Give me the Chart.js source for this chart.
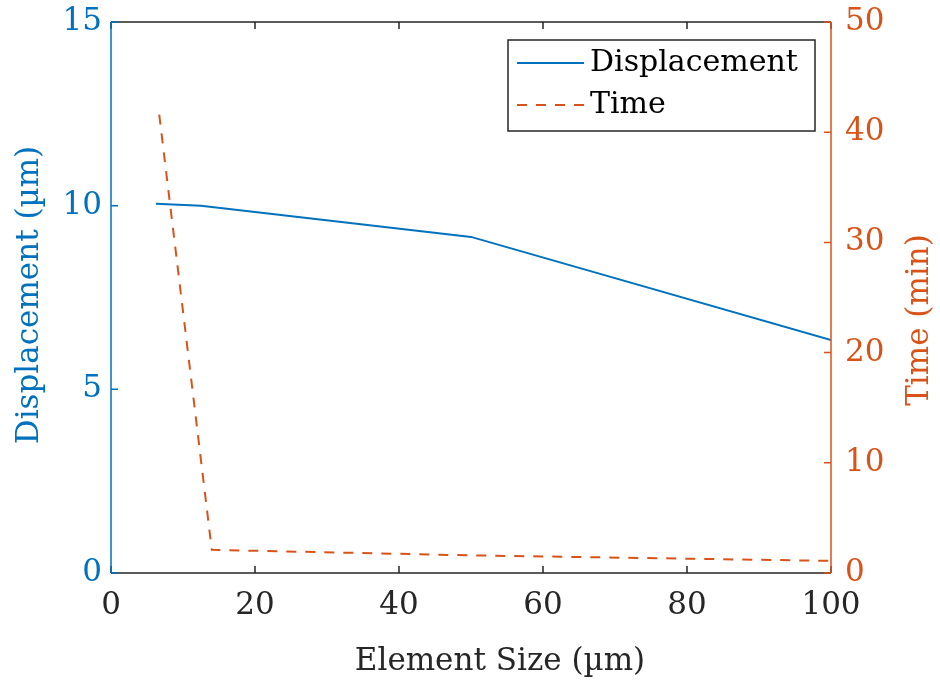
<!DOCTYPE html>
<html>
<head>
<meta charset="utf-8">
<script src="https://cdn.jsdelivr.net/npm/chart.js@4/dist/chart.umd.min.js"></script>
<style>
  html, body { margin: 0; padding: 0; background: #fff; }
  #wrap { width: 940px; height: 685px; }
</style>
</head>
<body>
<div id="wrap"><canvas id="chart" width="940" height="685"></canvas></div>
<script>
const dispSize = [6.25, 12.5, 50, 100];
const displacement = [10.05, 10.0, 9.15, 6.34];
const timeSize = [6.7, 14, 50, 100];
const timeMin = [41.6, 2.1, 1.6, 1.1];

const xTicks = [0, 20, 40, 60, 80, 100];
const leftTicks = [0, 5, 10, 15];
const rightTicks = [0, 10, 20, 30, 40, 50];

const BLUE = '#0072BD';
const ORANGE = '#D95319';
const DARK = '#262626';
const FONT = 'DejaVu Serif';
const FS = 31;

// axes box, inward tick marks, titles and legend (MATLAB look)
const matlabAxes = {
    id: 'matlabAxes',
    afterDraw(chart) {
        const ctx = chart.ctx;
        const a = chart.chartArea;
        const x = chart.scales.x, y = chart.scales.y, y2 = chart.scales.y2;
        const tl = 7;
        ctx.save();
        ctx.lineWidth = 1.5;
        // bottom & top
        ctx.strokeStyle = DARK;
        ctx.beginPath();
        ctx.moveTo(a.left, a.bottom); ctx.lineTo(a.right, a.bottom);
        ctx.moveTo(a.left, a.top); ctx.lineTo(a.right, a.top);
        xTicks.forEach(v => {
            const px = x.getPixelForValue(v);
            ctx.moveTo(px, a.bottom); ctx.lineTo(px, a.bottom - tl);
            ctx.moveTo(px, a.top); ctx.lineTo(px, a.top + tl);
        });
        ctx.stroke();
        // left axis
        ctx.strokeStyle = BLUE;
        ctx.beginPath();
        ctx.moveTo(a.left, a.bottom); ctx.lineTo(a.left, a.top);
        leftTicks.forEach(v => {
            const py = y.getPixelForValue(v);
            ctx.moveTo(a.left, py); ctx.lineTo(a.left + tl, py);
        });
        ctx.stroke();
        // right axis
        ctx.strokeStyle = ORANGE;
        ctx.beginPath();
        ctx.moveTo(a.right, a.bottom); ctx.lineTo(a.right, a.top);
        rightTicks.forEach(v => {
            const py = y2.getPixelForValue(v);
            ctx.moveTo(a.right, py); ctx.lineTo(a.right - tl, py);
        });
        ctx.stroke();

        ctx.font = FS + 'px "' + FONT + '"';
        ctx.textAlign = 'center';
        ctx.textBaseline = 'middle';
        // x title
        ctx.fillStyle = DARK;
        ctx.fillText('Element Size (µm)', 500, 662);
        // left title
        ctx.fillStyle = BLUE;
        ctx.translate(30, 295);
        ctx.rotate(-Math.PI / 2);
        ctx.fillText('Displacement (µm)', 0, 0);
        ctx.setTransform(1, 0, 0, 1, 0, 0);
        // right title, read bottom to top
        ctx.fillStyle = ORANGE;
        ctx.translate(920, 320);
        ctx.rotate(-Math.PI / 2);
        ctx.fillText('Time (min)', 0, 0);
        ctx.setTransform(1, 0, 0, 1, 0, 0);

        // legend box
        const bx = 508, by = 40, bw = 307, bh = 91;
        ctx.fillStyle = '#fff';
        ctx.fillRect(bx, by, bw, bh);
        ctx.strokeStyle = DARK;
        ctx.lineWidth = 1.5;
        ctx.strokeRect(bx, by, bw, bh);
        chart.data.datasets.forEach((ds, i) => {
            const ly = by + 23 + i * 42;
            ctx.strokeStyle = ds.borderColor;
            ctx.lineWidth = ds.borderWidth;
            ctx.setLineDash(ds.borderDash || []);
            ctx.beginPath();
            ctx.moveTo(bx + 9, ly); ctx.lineTo(bx + 76, ly);
            ctx.stroke();
            ctx.setLineDash([]);
            ctx.fillStyle = '#000';
            ctx.textAlign = 'left';
            ctx.font = '30px "' + FONT + '"';
            ctx.fillText(ds.label, bx + 82, ly);
        });
        ctx.restore();
    }
};

const ctx = document.getElementById('chart').getContext('2d');
new Chart(ctx, {
    type: 'line',
    data: {
        datasets: [{
            label: 'Displacement',
            data: dispSize.map((s, i) => ({ x: s, y: displacement[i] })),
            borderColor: BLUE,
            borderWidth: 2,
            pointRadius: 0,
            yAxisID: 'y'
        }, {
            label: 'Time',
            data: timeSize.map((s, i) => ({ x: s, y: timeMin[i] })),
            borderColor: ORANGE,
            borderWidth: 2,
            borderDash: [10, 9],
            pointRadius: 0,
            yAxisID: 'y2'
        }]
    },
    options: {
        responsive: false,
        animation: false,
        layout: { padding: { top: 22, left: 0, right: 0, bottom: 0 } },
        plugins: { legend: { display: false }, tooltip: { enabled: false } },
        scales: {
            x: {
                type: 'linear', min: 0, max: 100,
                afterBuildTicks: s => { s.ticks = xTicks.map(v => ({ value: v })); },
                afterFit: s => { s.height = 112; },
                grid: { display: true, drawOnChartArea: false, drawTicks: false },
                border: { display: false },
                ticks: { color: DARK, padding: 14, font: { family: FONT, size: FS } }
            },
            y: {
                position: 'left', min: 0, max: 15,
                afterBuildTicks: s => { s.ticks = leftTicks.map(v => ({ value: v })); },
                afterFit: s => { s.width = 111; s.paddingTop = 0; s.paddingBottom = 0; },
                grid: { display: true, drawOnChartArea: false, drawTicks: false },
                border: { display: false },
                ticks: { color: BLUE, padding: 9, font: { family: FONT, size: FS, lineHeight: 0.1 } }
            },
            y2: {
                position: 'right', min: 0, max: 50,
                afterBuildTicks: s => { s.ticks = rightTicks.map(v => ({ value: v })); },
                afterFit: s => { s.width = 109; s.paddingTop = 0; s.paddingBottom = 0; },
                grid: { display: true, drawOnChartArea: false, drawTicks: false },
                border: { display: false },
                ticks: { color: ORANGE, padding: 14, font: { family: FONT, size: FS, lineHeight: 0.1 } }
            }
        }
    },
    plugins: [matlabAxes]
});
</script>
</body>
</html>
